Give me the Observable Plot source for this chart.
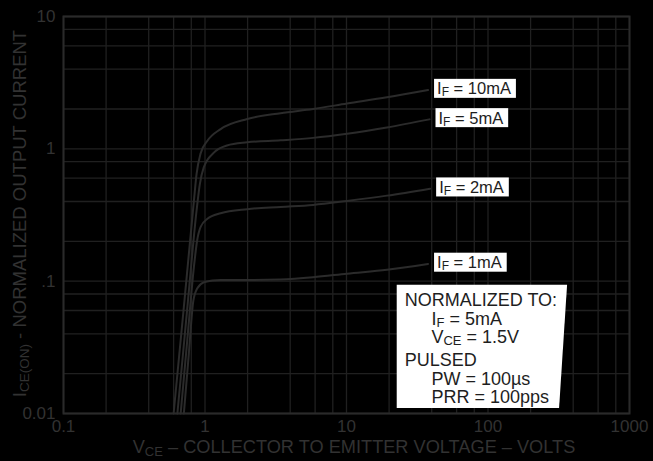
<!DOCTYPE html>
<html>
<head>
<meta charset="utf-8">
<script src="https://cdn.jsdelivr.net/npm/d3@7"></script>
<script src="https://cdn.jsdelivr.net/npm/@observablehq/plot@0.6"></script>
<style>
  html, body { margin: 0; padding: 0; background: #000; }
  #chart svg { display: block; }
</style>
</head>
<body>
<div id="chart"></div>
<script>
// Normalized output current vs collector-emitter voltage, one curve per forward current.
const seriesNames = ["10mA", "5mA", "2mA", "1mA"];
const labelTexts = ["I{F} = 10mA", "I{F} = 5mA", "I{F} = 2mA", "I{F} = 1mA"];

const vce10 = [0.60, 0.709, 0.835, 0.872, 0.93, 1.04, 1.29, 1.99, 3.42, 5.8, 10.1, 19.3, 37.7];
const ice10 = [0.010, 0.064, 0.406, 0.647, 0.92, 1.15, 1.41, 1.68, 1.86, 2.0, 2.2, 2.45, 2.78];

const vce5 = [0.638, 0.751, 0.872, 0.92, 0.98, 1.16, 1.43, 1.99, 3.42, 5.8, 10.1, 19.3, 38.6];
const ice5 = [0.010, 0.064, 0.342, 0.543, 0.724, 0.94, 1.06, 1.12, 1.16, 1.21, 1.30, 1.45, 1.67];

const vce2 = [0.673, 0.749, 0.835, 0.88, 0.93, 1.04, 1.29, 1.99, 3.42, 5.8, 10.1, 19.3, 39];
const ice2 = [0.010, 0.0356, 0.128, 0.203, 0.256, 0.296, 0.326, 0.350, 0.364, 0.377, 0.404, 0.443, 0.50];

const vce1 = [0.709, 0.766, 0.827, 0.88, 0.98, 1.13, 1.29, 1.99, 3.42, 5.8, 10.1, 19.3, 37.7];
const ice1 = [0.010, 0.027, 0.071, 0.088, 0.098, 0.101, 0.102, 0.102, 0.103, 0.107, 0.114, 0.122, 0.135];

const xTicks = [0.1, 1, 10, 100, 1000];
const xTickLabels = ["0.1", "1", "10", "100", "1000"];
const yTicks = [0.01, 0.1, 1, 10];
const yTickLabels = ["0.01", ".1", "1", "10"];

const xGrid = [0.1, 0.2, 0.4, 0.6, 0.8, 1, 2, 4, 6, 8, 10, 20, 40, 60, 80, 100, 200, 400, 600, 800, 1000];
const yGrid = [0.01, 0.02, 0.04, 0.06, 0.08, 0.1, 0.2, 0.4, 0.6, 0.8, 1, 2, 4, 6, 8, 10];

const noteLines = ["NORMALIZED TO:", "I{F} = 5mA", "V{CE} = 1.5V", "PULSED", "PW = 100µs", "PRR = 100pps"];
const noteIndent = [false, true, true, false, true, true];

const xTitle = "V{CE} – COLLECTOR TO EMITTER VOLTAGE – VOLTS";
const yTitle = "I{CE(ON)} - NORMALIZED OUTPUT CURRENT";

// Build the long table for the line mark
const seriesV = [vce10, vce5, vce2, vce1];
const seriesI = [ice10, ice5, ice2, ice1];
const curveRows = [];
const labelRows = [];
seriesNames.forEach((name, k) => {
  seriesV[k].forEach((v, j) => curveRows.push({series: name, vce: v, ice: seriesI[k][j]}));
  const last = seriesV[k].length - 1;
  labelRows.push({series: name, vce: seriesV[k][last], ice: seriesI[k][last], text: labelTexts[k]});
});

const xTickText = new Map(xTicks.map((t, i) => [t, xTickLabels[i]]));
const yTickText = new Map(yTicks.map((t, i) => [t, yTickLabels[i]]));

const gridColor = "#202020";
const frameColor = "#2a2a2a";
const curveColor = "#2b2b2b";
const inkColor = "#323232";
const fontFamily = "'Liberation Sans', Arial, Helvetica, sans-serif";

const plot = Plot.plot({
  width: 653,
  height: 461,
  marginLeft: 63,
  marginRight: 24,
  marginTop: 16,
  marginBottom: 48,
  style: {background: "#000", color: inkColor, fontFamily, fontSize: "17px"},
  x: {type: "log", domain: [0.1, 1000], ticks: xTicks, tickFormat: d => xTickText.get(d), tickSize: 0, tickPadding: 6, label: null},
  y: {type: "log", domain: [0.01, 10], ticks: yTicks, tickFormat: d => yTickText.get(d), tickSize: 0, tickPadding: 8, label: null},
  marks: [
    Plot.ruleX(xGrid, {stroke: gridColor, strokeWidth: 1.3}),
    Plot.ruleY(yGrid, {stroke: gridColor, strokeWidth: 1.3}),
    Plot.frame({stroke: frameColor, strokeWidth: 2}),
    Plot.line(curveRows, {x: "vce", y: "ice", z: "series", stroke: curveColor, strokeWidth: 2, curve: "monotone-x"}),
    Plot.text(labelRows, {x: "vce", y: "ice", text: "text", dx: 9, dy: -1, textAnchor: "start", fill: "#1e1e1e", fontSize: 16.5})
  ]
});

document.getElementById("chart").appendChild(plot);

// Writes "A{sub} rest" strings as tspans with lowered subscripts.
function setRichText(sel, str, subSize, shift) {
  sel.text(null);
  const parts = str.split(/(\{[^}]*\})/).filter(s => s.length);
  let lowered = false;
  for (const p of parts) {
    if (p.startsWith("{")) {
      sel.append("tspan").attr("font-size", subSize).attr("dy", shift).text(p.slice(1, -1));
      lowered = true;
    } else {
      const t = sel.append("tspan").text(p);
      if (lowered) { t.attr("dy", -shift); lowered = false; }
    }
  }
}

const svg = d3.select(plot);
const xs = plot.scale("x");
const ys = plot.scale("y");

// Curve labels: subscripts and white boxes
const labelByText = new Map(labelRows.map(d => [d.text, d]));
svg.selectAll("text").filter(function() { return labelByText.has(this.textContent); }).each(function() {
  const t = d3.select(this);
  setRichText(t, this.textContent, 12, 2);
  const b = this.getBBox();
  const r = d3.select(this.parentNode).insert("rect", () => this)
    .attr("x", b.x - 3).attr("y", b.y - 0.5)
    .attr("width", b.width + 8).attr("height", b.height - 1)
    .attr("fill", "#fff");
  const tr = this.getAttribute("transform");
  if (tr) r.attr("transform", tr);
});

// Normalization note
const noteX = xs.apply(26);
const noteY = ys.apply(0.064);
const lineOffsets = [0, 18.3, 36.6, 59.3, 78.3, 96.6];
const note = svg.append("g").attr("font-family", fontFamily).attr("font-size", 18)
  .attr("fill", "#1e1e1e").attr("text-anchor", "start");
const noteText = note.append("g");
noteLines.forEach((line, i) => {
  const t = noteText.append("text")
    .attr("x", noteX + (noteIndent[i] ? 26.7 : 0))
    .attr("y", noteY + lineOffsets[i]);
  setRichText(t, line, 13, 2);
});
const nb = noteText.node().getBBox();
note.insert("polygon", "g").attr("fill", "#fff").attr("points", [
  [nb.x - 8, nb.y - 5.5],
  [nb.x + nb.width + 10, nb.y - 5.5],
  [nb.x + nb.width + 2, nb.y + nb.height + 1.2],
  [nb.x - 8, nb.y + nb.height + 1.2]
].map(p => p.join(",")).join(" "));

// Axis titles
const [xr0, xr1] = xs.range;
const [yr0, yr1] = ys.range;
const xt = svg.append("text")
  .attr("x", (xr0 + xr1) / 2 + 8).attr("y", 453)
  .attr("text-anchor", "middle").attr("fill", inkColor)
  .attr("font-family", fontFamily).attr("font-size", 18.2);
setRichText(xt, xTitle, 13, 3);

const yt = svg.append("text")
  .attr("transform", `translate(26,${(yr0 + yr1) / 2 - 1}) rotate(-90)`)
  .attr("text-anchor", "middle").attr("fill", inkColor)
  .attr("font-family", fontFamily).attr("font-size", 18.5);
setRichText(yt, yTitle, 13.5, 3);
</script>
</body>
</html>
